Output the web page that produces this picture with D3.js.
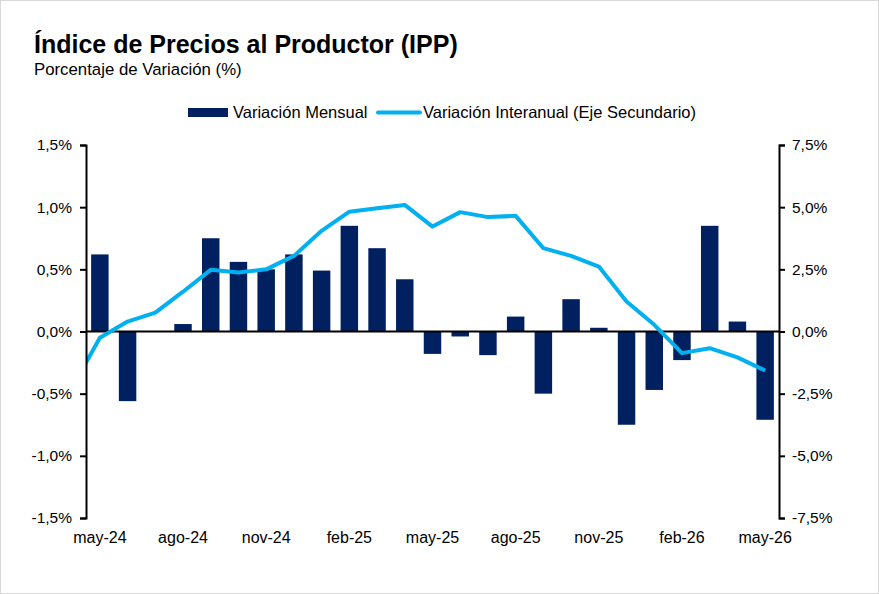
<!DOCTYPE html>
<html>
<head>
<meta charset="utf-8">
<script src="https://cdn.jsdelivr.net/npm/d3@7"></script>
<style>
  body { margin: 0; background: #fff; }
  svg { display: block; }
</style>
</head>
<body>
<svg width="879" height="594"></svg>
<script>
// meses (abr-24 solo para el tramo inicial de la línea, queda recortado)
const months = ["abr-24","may-24","jun-24","jul-24","ago-24","sep-24","oct-24","nov-24","dic-24",
  "ene-25","feb-25","mar-25","abr-25","may-25","jun-25","jul-25","ago-25","sep-25","oct-25",
  "nov-25","dic-25","ene-26","feb-26","mar-26","abr-26","may-26"];
const mensual = [null, 0.62, -0.56, 0.00, 0.06, 0.75, 0.56, 0.50, 0.62,
  0.49, 0.85, 0.67, 0.42, -0.18, -0.04, -0.19, 0.12, -0.50, 0.26,
  0.03, -0.75, -0.47, -0.23, 0.85, 0.08, -0.71];
const interanual = [-2.25, -0.25, 0.40, 0.76, 1.60, 2.48, 2.37, 2.50, 3.04,
  4.05, 4.82, 4.96, 5.09, 4.22, 4.80, 4.60, 4.65, 3.35, 3.04,
  2.61, 1.21, 0.27, -0.87, -0.67, -1.04, -1.57];
const tickLabels = ["may-24","ago-24","nov-24","feb-25","may-25","ago-25","nov-25","feb-26","may-26"];
const leftTicks = [-1.5, -1.0, -0.5, 0, 0.5, 1.0, 1.5];
const rightTicks = [-7.5, -5.0, -2.5, 0, 2.5, 5.0, 7.5];

const svg = d3.select("svg");
const plotL = 86, plotR = 779, plotT = 145, plotB = 518;
const narrow = "'Liberation Sans Narrow', 'Arial Narrow', 'Liberation Sans', Arial, sans-serif";
const regular = "'Liberation Sans', Arial, sans-serif";

// borde
svg.append("rect").attr("x", 0.5).attr("y", 0.5).attr("width", 878).attr("height", 593)
  .attr("fill", "#fff").attr("stroke", "#d9d9d9");

// título
svg.append("text").attr("x", 34).attr("y", 53).text("Índice de Precios al Productor (IPP)")
  .style("font-family", narrow).style("font-weight", "bold").style("font-size", "25px");
svg.append("text").attr("x", 34).attr("y", 75).text("Porcentaje de Variación (%)")
  .style("font-family", narrow).style("font-size", "16.8px");

const step = (plotR - plotL) / (months.length - 1);
const x = d3.scaleBand().domain(months).range([plotL - step, plotR]).paddingInner(0.37).paddingOuter(0.185);
const y = d3.scaleLinear().domain([-1.5, 1.5]).range([plotB, plotT]);
const y2 = d3.scaleLinear().domain([-7.5, 7.5]).range([plotB, plotT]);

svg.append("clipPath").attr("id", "plot").append("rect")
  .attr("x", plotL).attr("y", plotT - 10).attr("width", plotR - plotL).attr("height", plotB - plotT + 20);

// barras
const barData = months.map((m, i) => ({ m, v: mensual[i] })).filter(d => d.v !== null);
svg.append("g").selectAll("rect").data(barData).enter().append("rect")
  .attr("x", d => x(d.m))
  .attr("width", x.bandwidth())
  .attr("y", d => y(Math.max(0, d.v)))
  .attr("height", d => Math.abs(y(d.v) - y(0)))
  .attr("fill", "#002060");

// eje cero
svg.append("line").attr("x1", plotL).attr("x2", plotR).attr("y1", y(0)).attr("y2", y(0))
  .attr("stroke", "#000").attr("stroke-width", 2);

// línea interanual
const line = d3.line().x((d, i) => x(months[i]) + x.bandwidth() / 2).y(d => y2(d));
svg.append("path").datum(interanual)
  .attr("clip-path", "url(#plot)")
  .attr("d", line).attr("fill", "none").attr("stroke", "#00B0F0")
  .attr("stroke-width", 4).attr("stroke-linejoin", "round");

// ejes
const fmt = d => d3.format(".1f")(d).replace(".", ",").replace("\u2212", "-") + "%";
const gl = svg.append("g").attr("transform", `translate(${plotL},0)`)
  .call(d3.axisLeft(y).tickValues(leftTicks).tickFormat(fmt).tickSize(6).tickPadding(8));
const gr = svg.append("g").attr("transform", `translate(${plotR},0)`)
  .call(d3.axisRight(y2).tickValues(rightTicks).tickFormat(fmt).tickSize(6).tickPadding(7));
[gl, gr].forEach(g => {
  g.select(".domain").attr("stroke", "#000").attr("stroke-width", 2);
  g.selectAll(".tick line").attr("stroke", "#000").attr("stroke-width", 2);
  g.selectAll("text").style("font-family", regular).style("font-size", "15.5px").attr("fill", "#000");
});

const gx = svg.append("g").attr("transform", `translate(0,${plotB})`)
  .call(d3.axisBottom(x).tickValues(tickLabels).tickSize(0).tickPadding(14));
gx.select(".domain").remove();
gx.selectAll("text").style("font-family", regular).style("font-size", "16px").attr("fill", "#000");

// leyenda
const lg = svg.append("g");
lg.append("rect").attr("x", 188).attr("y", 108).attr("width", 40).attr("height", 9).attr("fill", "#002060");
lg.append("text").attr("x", 233).attr("y", 118).text("Variación Mensual")
  .style("font-family", narrow).style("font-size", "16.5px");
lg.append("line").attr("x1", 378).attr("x2", 420).attr("y1", 112.5).attr("y2", 112.5)
  .attr("stroke", "#00B0F0").attr("stroke-width", 4).attr("stroke-linecap", "round");
lg.append("text").attr("x", 423).attr("y", 118).text("Variación Interanual (Eje Secundario)")
  .style("font-family", narrow).style("font-size", "16.5px");
</script>
</body>
</html>
